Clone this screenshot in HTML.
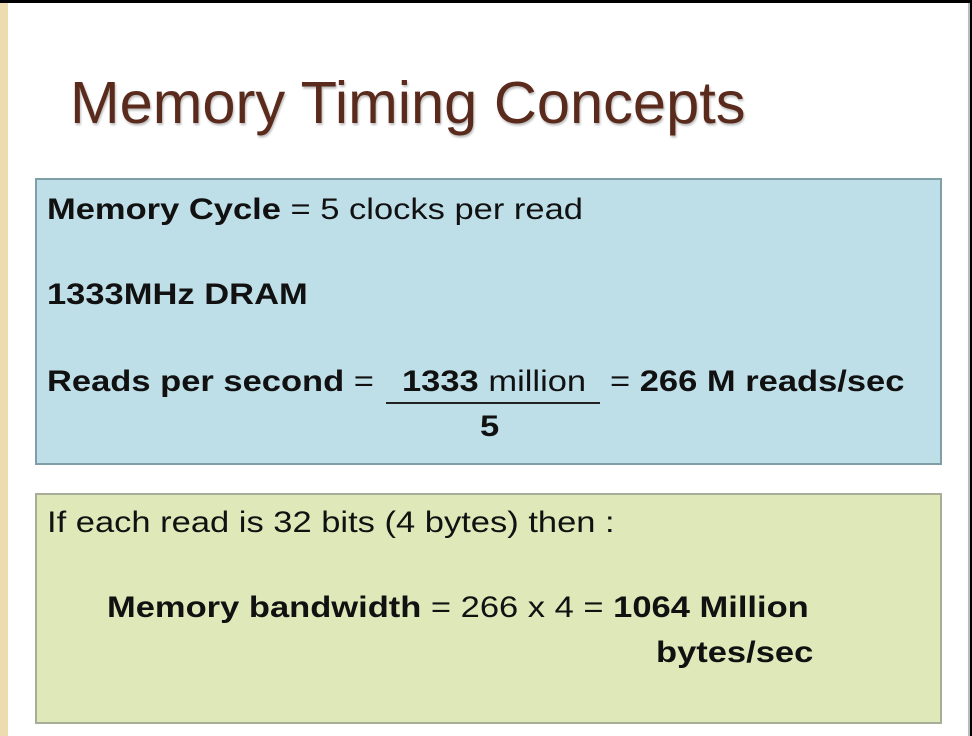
<!DOCTYPE html>
<html><head><style>
body{margin:0;width:972px;height:736px;background:#fff;position:relative;overflow:hidden;font-family:"Liberation Sans",sans-serif;color:#111}
.a{position:absolute;white-space:nowrap}
.t{font-size:30px;transform:scaleX(1.15);transform-origin:0 0}
b{font-weight:bold}
</style></head><body>
<div class="a" style="left:0;top:0;width:972px;height:3px;background:#000"></div>
<div class="a" style="left:0;top:3px;width:8px;height:733px;background:#ecdcb0"></div>
<div class="a" style="left:968px;top:3px;width:2px;height:733px;background:#bbb"></div>
<div class="a" style="left:970px;top:0;width:2px;height:736px;background:#000"></div>
<div class="a" style="left:70px;top:69px;font-size:59px;color:#5a2a1c;text-shadow:1px 2px 2px #bbb;transform:scaleX(1.01);transform-origin:0 0">Memory Timing Concepts</div>
<div class="a" style="left:35px;top:178px;width:903px;height:283px;background:#bfdfe8;border:2px solid #7f9ea6"></div>
<div class="a t" style="left:47px;top:193px"><b>Memory Cycle</b> = 5 clocks per read</div>
<div class="a t" style="left:47px;top:278px"><b>1333MHz DRAM</b></div>
<div class="a t" style="left:47px;top:365px"><b>Reads per second</b> = </div>
<div class="a t" style="left:402px;top:365px"><b>1333</b> million</div>
<div class="a" style="left:386px;top:402px;width:214px;height:2px;background:#222"></div>
<div class="a t" style="left:480px;top:410px"><b>5</b></div>
<div class="a t" style="left:610px;top:365px">= <b>266 M reads/sec</b></div>
<div class="a" style="left:35px;top:493px;width:903px;height:227px;background:#dfe8b9;border:2px solid #a8ad98"></div>
<div class="a t" style="left:47px;top:506px">If each read is 32 bits (4 bytes) then :</div>
<div class="a t" style="left:107px;top:591px"><b>Memory bandwidth</b> = 266 x 4 = <b>1064 Million</b></div>
<div class="a t" style="left:656px;top:636px"><b>bytes/sec</b></div>
</body></html>
